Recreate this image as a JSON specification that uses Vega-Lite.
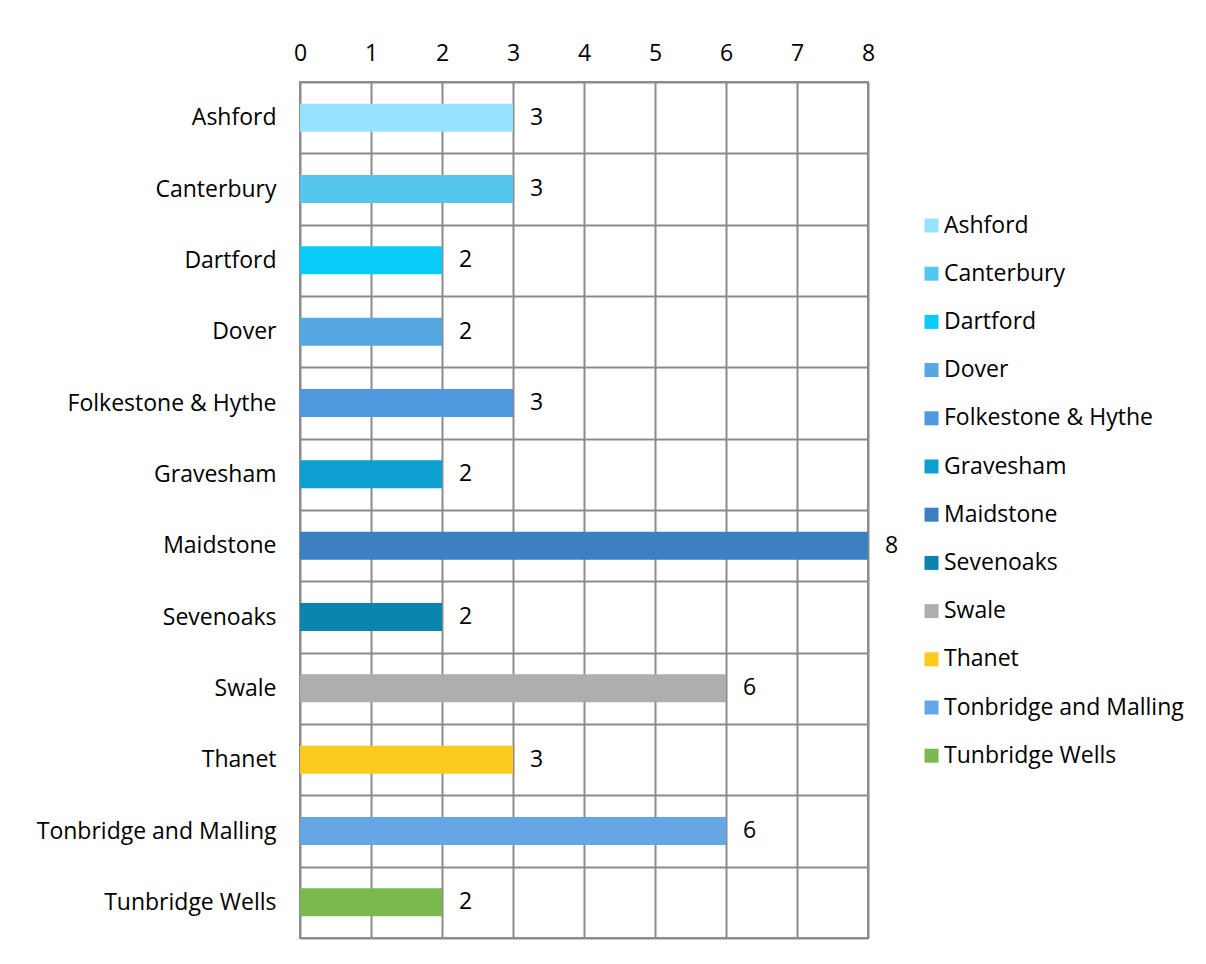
{
  "$schema": "https://vega.github.io/schema/vega-lite/v6.json",
  "autosize": "none",
  "width": 568,
  "height": 856,
  "padding": {"left": 300, "top": 82, "right": 338, "bottom": 26},
  "background": "white",
  "config": {
    "font": "Open Sans",
    "view": {"stroke": "#8c8c8c", "strokeWidth": 2}
  },
  "data": {
    "values": [
      {"district": "Ashford", "count": 3},
      {"district": "Canterbury", "count": 3},
      {"district": "Dartford", "count": 2},
      {"district": "Dover", "count": 2},
      {"district": "Folkestone & Hythe", "count": 3},
      {"district": "Gravesham", "count": 2},
      {"district": "Maidstone", "count": 8},
      {"district": "Sevenoaks", "count": 2},
      {"district": "Swale", "count": 6},
      {"district": "Thanet", "count": 3},
      {"district": "Tonbridge and Malling", "count": 6},
      {"district": "Tunbridge Wells", "count": 2}
    ]
  },
  "encoding": {
    "y": {
      "field": "district",
      "type": "nominal",
      "sort": null,
      "scale": {"paddingInner": 0, "paddingOuter": 0},
      "axis": {
        "title": null,
        "ticks": false,
        "domain": false,
        "grid": true,
        "tickBand": "extent",
        "gridColor": "#8c8c8c",
        "gridWidth": 2,
        "gridOpacity": 1,
        "labelFontSize": 23,
        "labelColor": "#000000",
        "labelPadding": 24,
        "labelLimit": 400
      }
    },
    "x": {
      "field": "count",
      "type": "quantitative",
      "scale": {"domain": [0, 8], "nice": false},
      "axis": {
        "orient": "top",
        "title": null,
        "ticks": false,
        "domain": false,
        "grid": true,
        "values": [0, 1, 2, 3, 4, 5, 6, 7, 8],
        "labelOverlap": false,
        "labelFlush": false,
        "gridColor": "#8c8c8c",
        "gridWidth": 2,
        "gridOpacity": 1,
        "labelFontSize": 23,
        "labelColor": "#000000",
        "labelPadding": 17
      }
    }
  },
  "layer": [
    {
      "mark": {"type": "bar", "size": 28},
      "encoding": {
        "color": {
          "field": "district",
          "type": "nominal",
          "sort": null,
          "scale": {
            "domain": ["Ashford", "Canterbury", "Dartford", "Dover", "Folkestone & Hythe", "Gravesham", "Maidstone", "Sevenoaks", "Swale", "Thanet", "Tonbridge and Malling", "Tunbridge Wells"],
            "range": ["#97E3FD", "#55C6EE", "#0BCBFB", "#56A8E3", "#4F97DF", "#0C9FD0", "#3D80C2", "#0B84AE", "#AEAEAE", "#FDCB1E", "#66A6E4", "#7AB94D"]
          },
          "legend": {
            "orient": "none",
            "legendX": 620,
            "legendY": 132,
            "title": null,
            "symbolType": "square",
            "symbolSize": 196,
            "symbolStrokeWidth": 0,
            "labelFontSize": 23,
            "labelColor": "#000000",
            "labelOffset": 1,
            "rowPadding": 24.2,
            "labelLimit": 400
          }
        }
      }
    },
    {
      "mark": {"type": "text", "align": "left", "dx": 17, "fontSize": 23, "color": "#000000"},
      "encoding": {
        "text": {"field": "count", "type": "quantitative"}
      }
    }
  ]
}
